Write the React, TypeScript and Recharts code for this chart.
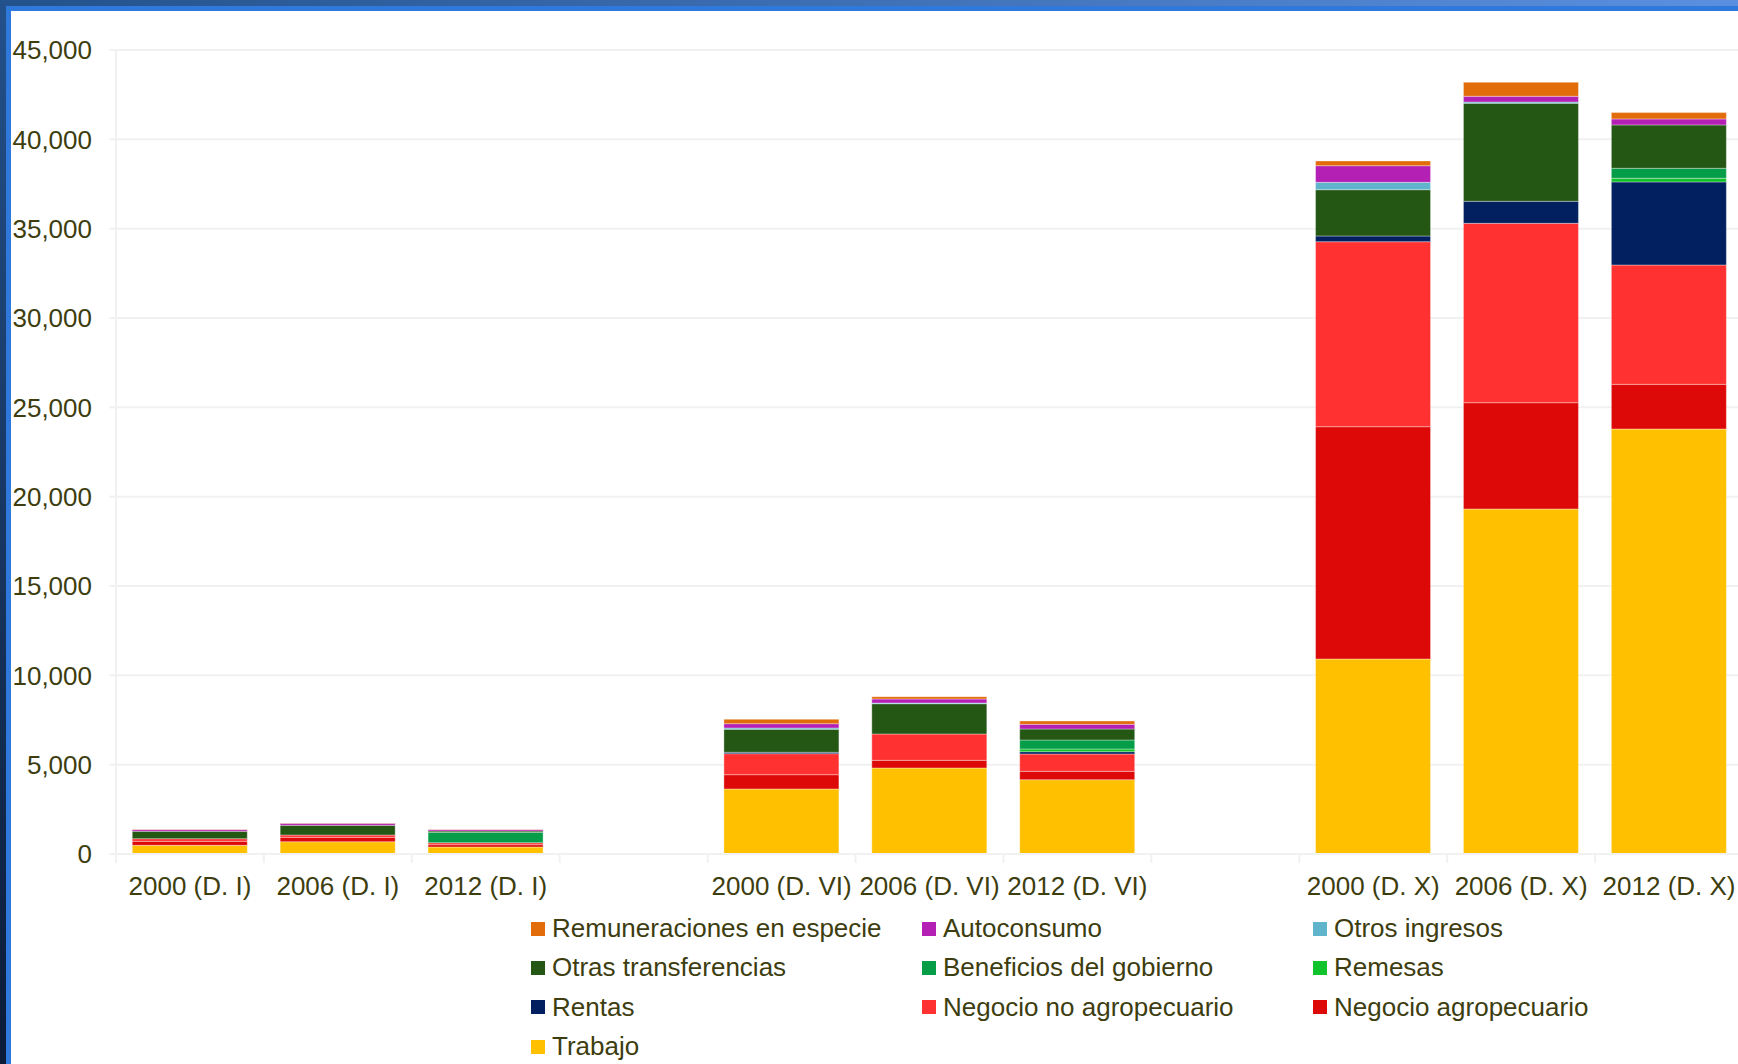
import { Bar, BarChart, CartesianGrid, XAxis, YAxis } from "recharts";

// categories along the x axis ("" = empty slot between the three deciles)
const categories = [
    "2000 (D. I)", "2006 (D. I)", "2012 (D. I)", "",
    "2000 (D. VI)", "2006 (D. VI)", "2012 (D. VI)", "",
    "2000 (D. X)", "2006 (D. X)", "2012 (D. X)",
];

const trabajo = [485, 690, 392, null, 3640, 4813, 4160, null, 10914, 19310, 23787];
const negocioAgro = [224, 243, 130, null, 800, 430, 468, null, 13002, 5950, 2500];
const negocioNoAgro = [149, 130, 111, null, 1175, 1474, 969, null, 10355, 10040, 6680];
const rentas = [0, 0, 0, null, 78, 0, 130, null, 320, 1232, 4650];
const remesas = [0, 0, 0, null, 0, 0, 150, null, 0, 0, 205];
const beneficios = [0, 0, 580, null, 0, 0, 504, null, 0, 0, 560];
const otrasTransf = [412, 541, 74, null, 1287, 1695, 615, null, 2590, 5485, 2425];
const otrosIngresos = [0, 0, 0, null, 73, 40, 0, null, 414, 73, 0];
const autoconsumo = [95, 115, 80, null, 241, 224, 262, null, 929, 319, 335];
const remuneraciones = [16, 16, 14, null, 246, 130, 186, null, 264, 784, 355];

const yTicks = [0, 5000, 10000, 15000, 20000, 25000, 30000, 35000, 40000, 45000];

// stacking order, bottom to top
const series = [
    { key: "trabajo", name: "Trabajo", color: "#ffc000", values: trabajo },
    { key: "negAgro", name: "Negocio agropecuario", color: "#dd0909", values: negocioAgro },
    { key: "negNoAgro", name: "Negocio no agropecuario", color: "#ff3131", values: negocioNoAgro },
    { key: "rentas", name: "Rentas", color: "#022060", values: rentas },
    { key: "remesas", name: "Remesas", color: "#12c22a", values: remesas },
    { key: "beneficios", name: "Beneficios del gobierno", color: "#069d48", values: beneficios },
    { key: "otrasTransf", name: "Otras transferencias", color: "#245614", values: otrasTransf },
    { key: "otrosIngresos", name: "Otros ingresos", color: "#60b4cc", values: otrosIngresos },
    { key: "autoconsumo", name: "Autoconsumo", color: "#b41fb4", values: autoconsumo },
    { key: "remuneraciones", name: "Remuneraciones en especie", color: "#e36c0a", values: remuneraciones },
];

const data = categories.map((_, i) => {
    const row: Record<string, number | null> = { id: i };
    series.forEach(s => { row[s.key] = s.values[i]; });
    return row;
});

const CHART_W = 1760;
const CHART_H = 1064;
const Y_AXIS_W = 116;
const MARGIN = { top: 50, right: 17, left: 0, bottom: 0 };
const BAND = (CHART_W - Y_AXIS_W - MARGIN.right) / categories.length;
const TEXT = "#3d3d10";
const FONT = "'Liberation Sans', Arial, sans-serif";
const GRID = "#f1f1f1";

const XTick = (props: any) => {
    const { x, y, payload } = props;
    const left = x - BAND / 2;
    return (
        <g>
            <line x1={left} x2={left} y1={y} y2={y + 9} stroke={GRID} strokeWidth={2} />
            <text x={x} y={y + 41} textAnchor="middle" fill={TEXT} fontSize={26} fontFamily={FONT}>
                {categories[payload.value]}
            </text>
        </g>
    );
};

const legendOrder = [...series].reverse();

const App = () => {
    return (
        <div style={{ position: "absolute", left: 0, top: 0, width: 1738, height: 1064, overflow: "hidden", background: "linear-gradient(to right, #23518b, #5b90e0)" }}>
            <div style={{ position: "absolute", left: 0, top: 0, width: 6, height: 1064, background: "linear-gradient(to bottom, #23518b, #0b1b38)" }} />
            <div style={{ position: "absolute", left: 6, top: 6, right: 0, bottom: 0, background: "#fff", borderTop: "5px solid #2f78dc", borderLeft: "5px solid #2f78dc" }} />
            <div style={{ position: "absolute", left: 0, top: 0 }}>
                <BarChart width={CHART_W} height={CHART_H} data={data} margin={MARGIN} barCategoryGap="11%">
                    <CartesianGrid vertical={false} stroke={GRID} strokeWidth={2} />
                    <XAxis
                        dataKey="id"
                        height={CHART_H - 854}
                        interval={0}
                        tick={<XTick />}
                        tickLine={false}
                        tickSize={0}
                        tickMargin={0}
                        axisLine={{ stroke: GRID, strokeWidth: 2 }}
                    />
                    <YAxis
                        width={Y_AXIS_W}
                        domain={[0, 45000]}
                        ticks={yTicks}
                        interval={0}
                        tickFormatter={(v: number) => v.toLocaleString("en-US")}
                        tick={{ fill: TEXT, fontSize: 26, fontFamily: FONT }}
                        tickSize={7}
                        tickMargin={17}
                        tickLine={{ stroke: GRID, strokeWidth: 2 }}
                        axisLine={{ stroke: GRID, strokeWidth: 2 }}
                    />
                    {series.map(s => (
                        <Bar
                            key={s.key}
                            dataKey={s.key}
                            name={s.name}
                            stackId="a"
                            fill={s.color}
                            stroke="rgba(255,255,255,0.35)"
                            strokeWidth={1}
                            isAnimationActive={false}
                        />
                    ))}
                </BarChart>
            </div>
            <div style={{ position: "absolute", left: 531, top: 909, width: 1200, display: "grid", gridTemplateColumns: "391px 391px 391px", fontFamily: FONT, fontSize: 26, color: TEXT }}>
                {legendOrder.map(s => (
                    <div key={s.key} style={{ display: "flex", alignItems: "center", height: 39.3, whiteSpace: "nowrap" }}>
                        <span style={{ display: "inline-block", width: 14, height: 14, background: s.color, marginRight: 7 }} />
                        <span>{s.name}</span>
                    </div>
                ))}
            </div>
        </div>
    );
};

export default App;
